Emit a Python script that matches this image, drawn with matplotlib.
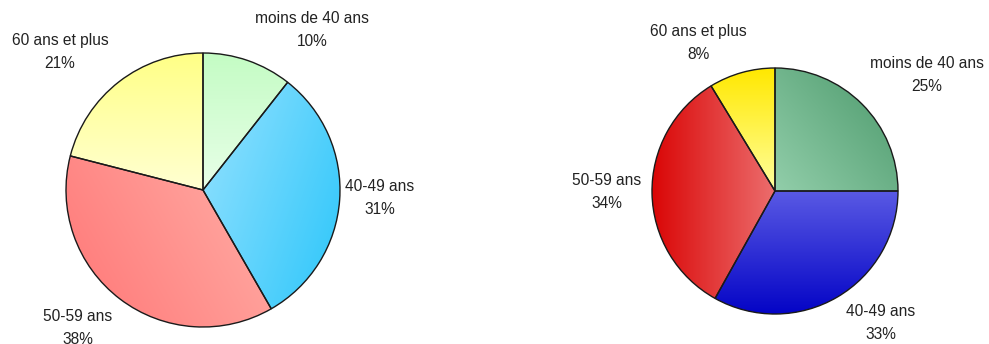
import numpy as np
import matplotlib
matplotlib.use("Agg")
import matplotlib.pyplot as plt
from matplotlib.colors import to_rgb

# ---------------- data ----------------
categories = ["moins de 40 ans", "40-49 ans", "50-59 ans", "60 ans et plus"]
left_values = [10.6, 31.1, 37.3, 21.0]
left_pct = ["10%", "31%", "38%", "21%"]
right_values = [25.0, 33.1, 33.2, 8.7]
right_pct = ["25%", "33%", "34%", "8%"]

# gradient specs per slice: (start colour, end colour, direction angle deg)
left_grad = [("#C4FCC4", "#E8FFE8", -90),
             ("#96E2FF", "#2CC6FA", -30),
             ("#FF7676", "#FFB0A8", 25),
             ("#FFFF86", "#FFFFD2", -90)]
right_grad = [("#92CEAA", "#4A986A", 40),
              ("#5A5AE4", "#0404C6", -90),
              ("#DA0606", "#EC6E6E", 0),
              ("#FFE800", "#FFFF9E", -90)]

# layout (pixel units, y measured downward from top)
W, H, DPI = 989, 344, 100
left_center, left_r = (203, 190), 137
right_center, right_r = (775, 191), 123
left_label_pos = [(312, 30), (380, 198), (78, 328), (60, 52)]
right_label_pos = [(927, 75), (881, 323), (607, 192), (698, 43)]

fig = plt.figure(figsize=(W / DPI, H / DPI), dpi=DPI)
ax = fig.add_axes([0, 0, 1, 1])


def draw_pie(values, center, r, grads, labels_pct, label_pos):
    cx, cy = center[0], H - center[1]
    wedges, _ = ax.pie(values, center=(cx, cy), radius=r, startangle=90,
                       counterclock=False, frame=True,
                       wedgeprops=dict(facecolor="none", edgecolor="#1a1a1a",
                                       linewidth=1.0, zorder=3))
    n = 200
    for w, (c0, c1, ang) in zip(wedges, grads):
        bb = w.get_path().get_extents(w.get_patch_transform())
        x0, y0, x1, y1 = bb.x0, bb.y0, bb.x1, bb.y1
        xs = np.linspace(0, 1, n)
        ys = np.linspace(1, 0, n)
        X, Y = np.meshgrid(xs, ys)
        a = np.deg2rad(ang)
        t = (X - 0.5) * np.cos(a) + (Y - 0.5) * np.sin(a)
        t = (t - t.min()) / (t.max() - t.min())
        c0r, c1r = np.array(to_rgb(c0)), np.array(to_rgb(c1))
        img = c0r[None, None, :] * (1 - t[..., None]) + c1r[None, None, :] * t[..., None]
        im = ax.imshow(img, extent=(x0, x1, y0, y1), origin="upper",
                       interpolation="bilinear", zorder=2, aspect="auto")
        im.set_clip_path(w)
    for cat, pct, (lx, ly) in zip(categories, labels_pct, label_pos):
        ax.text(lx, H - ly, f"{cat}\n{pct}", ha="center", va="center",
                multialignment="center", fontsize=11.2, linespacing=1.6,
                color="#222222", family=["Liberation Sans", "DejaVu Sans"],
                zorder=4)


draw_pie(left_values, left_center, left_r, left_grad, left_pct, left_label_pos)
draw_pie(right_values, right_center, right_r, right_grad, right_pct, right_label_pos)

ax.set_xlim(0, W)
ax.set_ylim(0, H)
ax.set_aspect("auto")
ax.axis("off")

fig.savefig("out.png", dpi=DPI, facecolor="white")
